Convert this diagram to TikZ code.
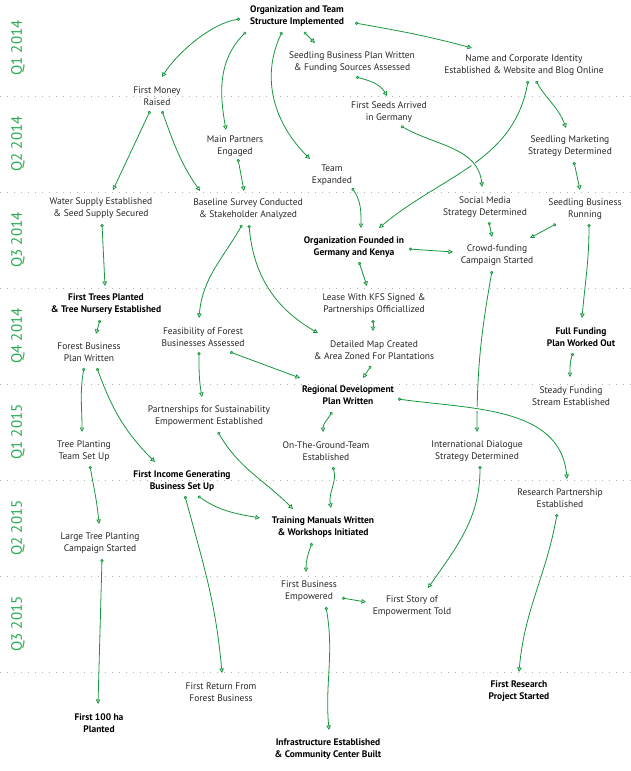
\documentclass[tikz,border=0pt]{standalone}
\usepackage{fontspec}
\setmainfont{PT Sans}
\usetikzlibrary{arrows.meta}

\definecolor{leaf}{RGB}{22,150,62}
\definecolor{qgreen}{RGB}{40,170,80}

\tikzset{
  task/.style={align=center, inner sep=1pt, text=black!85,
    font=\fontsize{9.5}{11.5}\selectfont},
  milestone/.style={task, text=black,
    font=\fontsize{9.5}{11.5}\selectfont\bfseries},
  link/.style={draw=leaf, line width=0.8pt,
    {Circle[open,length=3.2pt]}-{Triangle[open,length=4.5pt,width=4.5pt]}},
  over/.style={preaction={draw=white, line width=4pt, arrows=-}},
  quarter/.style={rotate=90, text=qgreen, font=\fontsize{15}{15}\selectfont},
  sep/.style={draw=black!30, line width=0.7pt, dash pattern=on 0.8pt off 6.2pt}
}

\begin{document}
\begin{tikzpicture}[x=1pt,y=1pt]

\useasboundingbox (0,0) rectangle (631,-771);

% Quarters
\foreach \y in {96,192,...,672}
  \draw[sep] (0,-\y) -- (631,-\y);

\node[quarter] (q1a) at (18,-48)  {Q1 2014};
\node[quarter] (q2a) at (18,-144) {Q2 2014};
\node[quarter] (q3a) at (18,-240) {Q3 2014};
\node[quarter] (q4a) at (18,-336) {Q4 2014};
\node[quarter] (q1b) at (18,-432) {Q1 2015};
\node[quarter] (q2b) at (18,-528) {Q2 2015};
\node[quarter] (q3b) at (18,-624) {Q3 2015};

% Q1 2014
\node[milestone] (org) at (297,-16) {Organization and Team\\Structure Implemented};
\node[task] (sbp) at (352,-62) {Seedling Business Plan Written\\\& Funding Sources Assessed};
\node[task] (name) at (524,-65) {Name and Corporate Identity\\Established \& Website and Blog Online};
\node[task] (money) at (157,-96) {First Money\\Raised};

% Q2 2014
\node[task] (seeds) at (389,-112) {First Seeds Arrived\\in Germany};
\node[task] (partners) at (235,-146) {Main Partners\\Engaged};
\node[task] (marketing) at (570,-146) {Seedling Marketing\\Strategy Determined};
\node[task] (team) at (332,-175) {Team\\Expanded};

% Q3 2014
\node[task] (water) at (101,-208) {Water Supply Established\\\& Seed Supply Secured};
\node[task] (baseline) at (248,-209) {Baseline Survey Conducted\\\& Stakeholder Analyzed};
\node[task] (social) at (485,-207) {Social Media\\Strategy Determined};
\node[task] (running) at (585,-209) {Seedling Business\\Running};
\node[milestone] (founded) at (354,-247) {Organization Founded in\\Germany and Kenya};
\node[task] (crowd) at (497,-255) {Crowd-funding\\Campaign Started};

% Q4 2014
\node[milestone] (trees) at (106,-304) {First Trees Planted\\\& Tree Nursery Established};
\node[task] (lease) at (374,-304) {Lease With KFS Signed \&\\Partnerships Officiallized};
\node[task] (feas) at (203,-337) {Feasibility of Forest\\Businesses Assessed};
\node[task] (fbp) at (89,-352) {Forest Business\\Plan Written};
\node[task] (map) at (374,-350) {Detailed Map Created\\\& Area Zoned For Plantations};
\node[milestone] (fullfund) at (581,-337) {Full Funding\\Plan Worked Out};

% Q1 2015
\node[task] (steady) at (571,-396) {Steady Funding\\Stream Established};
\node[milestone] (regional) at (348,-395) {Regional Development\\Plan Written};
\node[task] (psust) at (209,-416) {Partnerships for Sustainability\\Empowerment Established};
\node[task] (tpt) at (84,-451) {Tree Planting\\Team Set Up};
\node[task] (ground) at (326,-451) {On-The-Ground-Team\\Established};
\node[task] (intl) at (477,-451) {International Dialogue\\Strategy Determined};
\node[milestone] (income) at (182,-481) {First Income Generating\\Business Set Up};

% Q2 2015
\node[task] (research) at (560,-498) {Research Partnership\\Established};
\node[milestone] (training) at (323,-527) {Training Manuals Written\\\& Workshops Initiated};
\node[task] (large) at (100,-543) {Large Tree Planting\\Campaign Started};

% Q3 2015 and later
\node[task] (firstbiz) at (309,-591) {First Business\\Empowered};
\node[task] (story) at (412,-606) {First Story of\\Empowerment Told};
\node[task] (return) at (221,-692) {First Return From\\Forest Business};
\node[milestone] (project) at (519,-691) {First Research\\Project Started};
\node[milestone] (ha) at (99,-723) {First 100 ha\\Planted};
\node[milestone] (infra) at (328,-749) {Infrastructure Established\\\& Community Center Built};

% Links
\draw[link] ([shift={(-57,-3)}]org.center) to[out=188,in=58,looseness=0.75] ([shift={(5,19)}]money.center);
\draw[link] ([shift={(-51,-16)}]org.center) to[out=225,in=100] ([shift={(-9,16)}]partners.center);
\draw[link] ([shift={(-15,-16)}]org.center) to[out=245,in=135] ([shift={(-22,16)}]team.center);
\draw[link] ([shift={(7,-16)}]org.center) -- ([shift={(-37,19)}]sbp.center);
\draw[link] ([shift={(58,-7)}]org.center) to[out=-10,in=165] ([shift={(-52,17)}]name.center);
\draw[link] ([shift={(4,-15)}]sbp.center) to[out=-15,in=120] ([shift={(-2,16)}]seeds.center);
\draw[link] ([shift={(4,-16)}]name.center) to[out=-100,in=40] ([shift={(25,19)}]founded.center);
\draw[link] ([shift={(12,-16)}]name.center) to[out=-60,in=110] ([shift={(-4,18)}]marketing.center);
\draw[link,over] ([shift={(12,-14)}]seeds.center) to[out=-30,in=95] ([shift={(-3,20)}]social.center);
\draw[link] ([shift={(-7,-15)}]money.center) -- ([shift={(12,18)}]water.center);
\draw[link] ([shift={(5,-15)}]money.center) to[out=-70,in=125] ([shift={(-48,18)}]baseline.center);
\draw[link] ([shift={(3,-13)}]partners.center) -- ([shift={(-4,18)}]baseline.center);
\draw[link] ([shift={(4,-16)}]marketing.center) -- ([shift={(-5,19)}]running.center);
\draw[link] ([shift={(20,-13)}]team.center) to[out=-55,in=90] ([shift={(7,19)}]founded.center);
\draw[link] ([shift={(1,-16)}]water.center) -- ([shift={(-1,18)}]trees.center);
\draw[link] ([shift={(-6,-16)}]baseline.center) to[out=-120,in=85] ([shift={(-4,19)}]feas.center);
\draw[link] ([shift={(1,-16)}]baseline.center) to[out=-85,in=150] ([shift={(-56,17)}]map.center);
\draw[link] ([shift={(4,-15)}]social.center) -- ([shift={(-5,18)}]crowd.center);
\draw[link] ([shift={(-29,-15)}]running.center) -- ([shift={(33,17)}]crowd.center);
\draw[link] ([shift={(55,-2)}]founded.center) -- ([shift={(-44,3)}]crowd.center);
\draw[link] ([shift={(4,-15)}]running.center) to[out=-90,in=85] ([shift={(1,19)}]fullfund.center);
\draw[link] ([shift={(5,-15)}]founded.center) -- ([shift={(-7,18)}]lease.center);
\draw[link] ([shift={(-5,-16)}]crowd.center) to[out=-100,in=90] ([shift={(0,19)}]intl.center);
\draw[link] ([shift={(-6,-16)}]trees.center) -- ([shift={(7,18)}]fbp.center);
\draw[link] ([shift={(-1,-16)}]lease.center) -- ([shift={(-1,19)}]map.center);
\draw[link] ([shift={(27,-15)}]feas.center) -- ([shift={(-48,17)}]regional.center);
\draw[link] ([shift={(-4,-15)}]feas.center) to[out=-90,in=100] ([shift={(-7,19)}]psust.center);
\draw[link] ([shift={(-3,-16)}]map.center) -- ([shift={(15,17)}]regional.center);
\draw[link] ([shift={(-8,-16)}]fullfund.center) to[out=-110,in=90] ([shift={(-1,19)}]steady.center);
\draw[link] ([shift={(-5,-16)}]fbp.center) to[out=-100,in=90] ([shift={(-2,19)}]tpt.center);
\draw[link] ([shift={(8,-16)}]fbp.center) to[out=-70,in=135] ([shift={(-27,19)}]income.center);
\draw[link] ([shift={(9,-16)}]psust.center) to[out=-60,in=135] ([shift={(-30,18)}]training.center);
\draw[link] ([shift={(-16,-17)}]regional.center) to[out=-120,in=90] ([shift={(-3,19)}]ground.center);
\draw[link,over] ([shift={(50,-4)}]regional.center) to[out=-8,in=95] ([shift={(7,19)}]research.center);
\draw[link] ([shift={(6,-15)}]tpt.center) to[out=-80,in=95] ([shift={(-1,19)}]large.center);
\draw[link] ([shift={(7,-16)}]ground.center) to[out=-75,in=100] ([shift={(8,19)}]training.center);
\draw[link] ([shift={(16,-15)}]income.center) to[out=-35,in=170] ([shift={(-63,9)}]training.center);
\draw[link] ([shift={(3,-15)}]income.center) to[out=-75,in=95] ([shift={(1,19)}]return.center);
\draw[link] ([shift={(3,-15)}]intl.center) to[out=-90,in=55] ([shift={(16,18)}]story.center);
\draw[link] ([shift={(-3,-16)}]research.center) to[out=-100,in=85] ([shift={(0,19)}]project.center);
\draw[link] ([shift={(2,-16)}]large.center) -- ([shift={(-1,19)}]ha.center);
\draw[link] ([shift={(-11,-16)}]training.center) to[out=-110,in=90] ([shift={(-3,19)}]firstbiz.center);
\draw[link] ([shift={(33,-7)}]firstbiz.center) -- ([shift={(-46,4)}]story.center);
\draw[link] ([shift={(17,-16)}]firstbiz.center) to[out=-80,in=95] ([shift={(1,19)}]infra.center);

\end{tikzpicture}
\end{document}
